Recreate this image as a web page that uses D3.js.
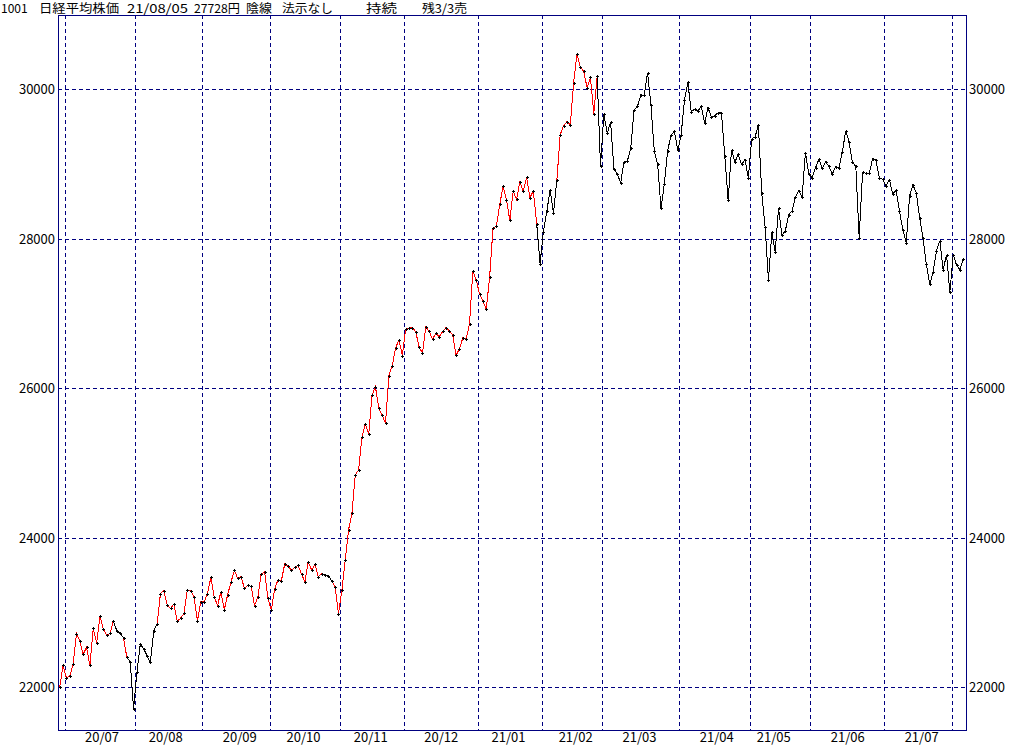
<!DOCTYPE html>
<html>
<head>
<meta charset="utf-8">
<script src="https://cdn.jsdelivr.net/npm/d3@7"></script>
<style>
  html, body { margin: 0; padding: 0; background: #fff; }
  svg { display: block; font-family: "Noto Sans CJK JP", "Noto Sans", sans-serif; }
</style>
</head>
<body>
<svg id="chart" width="1024" height="745"></svg>
<script>
// trading days (yy/mm/dd) and closes
const dates = [
  "20/06/29","20/06/30",
  "20/07/01","20/07/02","20/07/03","20/07/06","20/07/07","20/07/08","20/07/09","20/07/10","20/07/13","20/07/14",
  "20/07/15","20/07/16","20/07/17","20/07/20","20/07/21","20/07/22","20/07/27","20/07/28","20/07/29","20/07/30","20/07/31",
  "20/08/03","20/08/04","20/08/05","20/08/06","20/08/07","20/08/11","20/08/12","20/08/13","20/08/14","20/08/17",
  "20/08/18","20/08/19","20/08/20","20/08/21","20/08/24","20/08/25","20/08/26","20/08/27","20/08/28","20/08/31",
  "20/09/01","20/09/02","20/09/03","20/09/04","20/09/07","20/09/08","20/09/09","20/09/10","20/09/11","20/09/14",
  "20/09/15","20/09/16","20/09/17","20/09/18","20/09/23","20/09/24","20/09/25","20/09/28","20/09/29","20/09/30",
  "20/10/02","20/10/05","20/10/06","20/10/07","20/10/08","20/10/09","20/10/12","20/10/13","20/10/14","20/10/15",
  "20/10/16","20/10/19","20/10/20","20/10/21","20/10/22","20/10/23","20/10/26","20/10/27","20/10/28","20/10/29","20/10/30",
  "20/11/02","20/11/04","20/11/05","20/11/06","20/11/09","20/11/10","20/11/11","20/11/12","20/11/13","20/11/16",
  "20/11/17","20/11/18","20/11/19","20/11/20","20/11/24","20/11/25","20/11/26","20/11/27","20/11/30",
  "20/12/01","20/12/02","20/12/03","20/12/04","20/12/07","20/12/08","20/12/09","20/12/10","20/12/11","20/12/14",
  "20/12/15","20/12/16","20/12/17","20/12/18","20/12/21","20/12/22","20/12/23","20/12/24","20/12/25","20/12/28",
  "20/12/29","20/12/30",
  "21/01/04","21/01/05","21/01/06","21/01/07","21/01/08","21/01/12","21/01/13","21/01/14","21/01/15","21/01/18",
  "21/01/19","21/01/20","21/01/21","21/01/22","21/01/25","21/01/26","21/01/27","21/01/28","21/01/29",
  "21/02/01","21/02/02","21/02/03","21/02/04","21/02/05","21/02/08","21/02/09","21/02/10","21/02/12","21/02/15",
  "21/02/16","21/02/17","21/02/18","21/02/19","21/02/22","21/02/24","21/02/25","21/02/26",
  "21/03/01","21/03/02","21/03/03","21/03/04","21/03/05","21/03/08","21/03/09","21/03/10","21/03/11","21/03/12",
  "21/03/15","21/03/16","21/03/17","21/03/18","21/03/19","21/03/22","21/03/23","21/03/24","21/03/25","21/03/26",
  "21/03/29","21/03/30","21/03/31",
  "21/04/01","21/04/02","21/04/05","21/04/06","21/04/07","21/04/08","21/04/09","21/04/12","21/04/13","21/04/14",
  "21/04/15","21/04/16","21/04/19","21/04/20","21/04/21","21/04/22","21/04/23","21/04/26","21/04/27","21/04/28","21/04/30",
  "21/05/06","21/05/07","21/05/10","21/05/11","21/05/12","21/05/13","21/05/14","21/05/17","21/05/18","21/05/19",
  "21/05/20","21/05/21","21/05/24","21/05/25","21/05/26","21/05/27","21/05/28","21/05/31",
  "21/06/01","21/06/02","21/06/03","21/06/04","21/06/07","21/06/08","21/06/09","21/06/10","21/06/11","21/06/14",
  "21/06/15","21/06/16","21/06/17","21/06/18","21/06/21","21/06/22","21/06/23","21/06/24","21/06/25","21/06/28",
  "21/06/29","21/06/30",
  "21/07/01","21/07/02","21/07/05","21/07/06","21/07/07","21/07/08","21/07/09","21/07/12","21/07/13","21/07/14",
  "21/07/15","21/07/16","21/07/19","21/07/20","21/07/21","21/07/26","21/07/27","21/07/28","21/07/29","21/07/30",
  "21/08/02","21/08/03","21/08/04","21/08/05"
];
const closes = [
  21995, 22288,
  22122, 22146, 22306, 22714, 22615, 22439, 22529, 22291, 22785, 22587,
  22946, 22770, 22696, 22717, 22884, 22752, 22716, 22657, 22397, 22339, 21710,
  22195, 22574, 22515, 22418, 22330, 22750, 22844, 23250, 23289, 23097,
  23051, 23111, 22881, 22920, 22986, 23297, 23291, 23209, 22883, 23140,
  23138, 23247, 23466, 23205, 23090, 23274, 23033, 23235, 23406, 23559,
  23455, 23476, 23319, 23360, 23346, 23088, 23205, 23512, 23539, 23185,
  23030, 23312, 23434, 23423, 23647, 23620, 23559, 23602, 23627, 23507,
  23411, 23671, 23567, 23639, 23474, 23517, 23494, 23486, 23419, 23332, 22977,
  23295, 23695, 24105, 24325, 24840, 24906, 25350, 25521, 25386, 25907,
  26015, 25728, 25634, 25527, 26166, 26297, 26537, 26645, 26434,
  26788, 26801, 26809, 26751, 26547, 26467, 26818, 26756, 26653, 26732,
  26688, 26757, 26807, 26763, 26714, 26436, 26525, 26668, 26657, 26854,
  27568, 27444,
  27258, 27159, 27056, 27490, 28139, 28164, 28457, 28698, 28519, 28242,
  28633, 28523, 28757, 28631, 28822, 28546, 28635, 28197, 27663,
  28091, 28362, 28647, 28342, 28779, 29389, 29506, 29563, 29520, 30084,
  30468, 30292, 30236, 30018, 30156, 29672, 30168, 28966,
  29664, 29408, 29559, 28930, 28864, 28743, 29028, 29037, 29212, 29718,
  29767, 29921, 29914, 30217, 29792, 29174, 28996, 28406, 28730, 29177,
  29385, 29433, 29179,
  29389, 29854, 30089, 29697, 29731, 29709, 29768, 29539, 29752, 29621,
  29643, 29683, 29685, 29100, 28509, 29188, 29021, 29126, 28992, 29054, 28813,
  29331, 29358, 29518, 28609, 28148, 27448, 28084, 27825, 28407, 28044,
  28098, 28318, 28365, 28554, 28642, 28549, 29149, 28860,
  28814, 28946, 29058, 28942, 29019, 28964, 28861, 28959, 28949, 29162,
  29441, 29291, 29018, 28964, 28011, 28884, 28875, 28875, 29066, 29048,
  28813, 28792,
  28707, 28783, 28598, 28643, 28367, 28118, 27940, 28569, 28718, 28608,
  28279, 28003, 27653, 27388, 27548, 27833, 27970, 27582, 27782, 27284,
  27781, 27642, 27584, 27728
];
// stretches drawn in black (the rest of the line is red)
const blackSpans = [
  ["20/07/21", "20/07/28"],
  ["20/07/29", "20/08/12"],
  ["20/10/23", "20/10/28"],
  ["21/01/28", "21/02/05"],
  ["21/02/25", "21/08/05"]
];
const yTicks = [22000, 24000, 26000, 28000, 30000];
const monthLabels = ["20/07","20/08","20/09","20/10","20/11","20/12","21/01","21/02","21/03","21/04","21/05","21/06","21/07"];
const header = ["1001", "日経平均株価", "21/08/05", "27728円", "陰線", "法示なし", "持続", "残3/3売"];

// header layout (left edge and target width of each piece)
const headerX = [1, 39, 127, 194, 246, 282, 366, 422];
const headerW = [20, 80, 61, 46, 26, 51, 31, 45];
const plotL = 58, plotR = 966, plotT = 15, plotB = 730;
const navy = "#000080";

const svg = d3.select("#chart");
const n = closes.length;

const x = d3.scaleLinear().domain([-0.5, n - 0.2]).range([plotL, plotR]);
const y = d3.scaleLinear().domain([21425, 30990]).range([plotB, plotT]);
const px = v => Math.round(v) + 0.5;

// header: only stretch pieces that come out narrower than the reference
svg.append("g").selectAll("text").data(header).join("text")
    .attr("x", (d, i) => headerX[i])
    .attr("y", 12.5)
    .attr("font-size", 12)
    .attr("fill", "#000")
    .text(d => d)
    .each(function (d, i) {
        if (this.getComputedTextLength() < headerW[i]) {
            d3.select(this).attr("textLength", headerW[i]).attr("lengthAdjust", "spacingAndGlyphs");
        }
    });

// grid
const grid = svg.append("g").attr("stroke", navy).attr("stroke-width", 1)
    .attr("stroke-dasharray", "4,3").attr("shape-rendering", "crispEdges");

grid.selectAll("line.h").data(yTicks).join("line")
    .attr("class", "h")
    .attr("x1", plotL).attr("x2", plotR)
    .attr("y1", d => px(y(d))).attr("y2", d => px(y(d)));

const monthStarts = d3.range(1, n).filter(i => dates[i].slice(0, 5) !== dates[i - 1].slice(0, 5));
grid.selectAll("line.v").data(monthStarts).join("line")
    .attr("class", "v")
    .attr("x1", i => px(x(i - 0.5))).attr("x2", i => px(x(i - 0.5)))
    .attr("y1", plotT).attr("y2", plotB);

// frame
svg.append("rect")
    .attr("x", plotL + 0.5).attr("y", plotT + 0.5)
    .attr("width", plotR - plotL).attr("height", plotB - plotT)
    .attr("fill", "none").attr("stroke", navy).attr("shape-rendering", "crispEdges");

// y labels both sides
const ylab = svg.append("g").attr("font-size", 13).attr("fill", "#000");
ylab.selectAll("text.l").data(yTicks).join("text")
    .attr("class", "l")
    .attr("x", plotL - 3).attr("y", d => y(d) + 5)
    .attr("text-anchor", "end")
    .text(d => d);
ylab.selectAll("text.r").data(yTicks).join("text")
    .attr("class", "r")
    .attr("x", plotR + 3).attr("y", d => y(d) + 5)
    .text(d => d);

// month labels: under the last trading day on or before the 15th
svg.append("g").attr("font-size", 13).attr("fill", "#000").attr("text-anchor", "middle")
    .selectAll("text").data(monthLabels).join("text")
    .attr("x", m => {
        const idx = d3.range(n).filter(i => dates[i].startsWith(m) && +dates[i].slice(6) <= 15);
        return x(d3.max(idx)) + 2;
    })
    .attr("y", 742)
    .text(m => m);

// price line, split into red / black runs
const isBlack = i => blackSpans.some(([a, b]) => dates[i] >= a && dates[i + 1] <= b);
const runs = [];
for (let i = 0; i < n - 1; i++) {
    const c = isBlack(i) ? "#000000" : "#ff0000";
    if (!runs.length || runs[runs.length - 1].color !== c) runs.push({ color: c, idx: [i] });
    runs[runs.length - 1].idx.push(i + 1);
}
const line = d3.line().x(i => x(i)).y(i => y(closes[i]));

svg.append("g").attr("fill", "none").attr("stroke-width", 1).attr("shape-rendering", "crispEdges")
    .selectAll("path").data(runs).join("path")
    .attr("stroke", d => d.color)
    .attr("d", d => line(d.idx));

// + markers
svg.append("g").attr("stroke", "#000").attr("stroke-width", 1).attr("shape-rendering", "crispEdges")
    .selectAll("path").data(closes).join("path")
    .attr("d", (v, i) => {
        const cx = Math.round(x(i)), cy = Math.round(y(v));
        return `M${cx - 1},${cy + 0.5}h3M${cx + 0.5},${cy - 1}v3`;
    });
</script>
</body>
</html>
